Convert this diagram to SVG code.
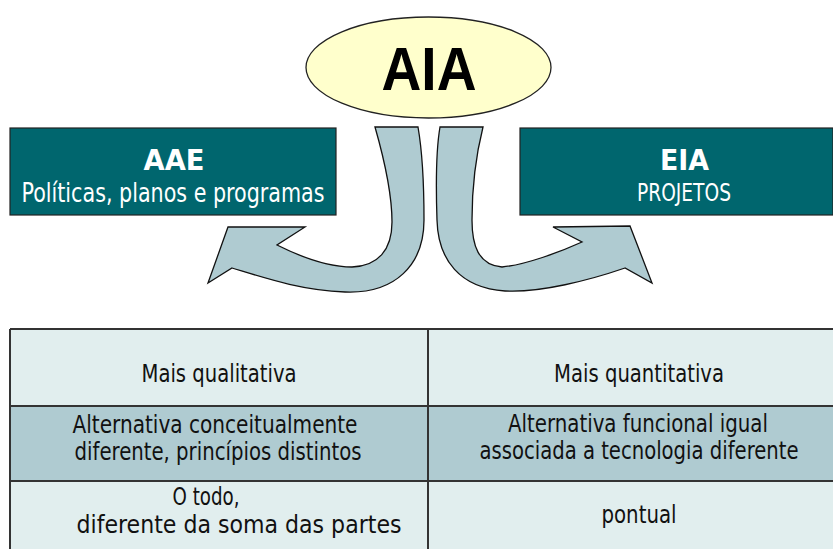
<svg xmlns="http://www.w3.org/2000/svg" width="833" height="549" viewBox="0 0 833 549">
<style>
.box{fill:#00666e;stroke:#222;stroke-width:1.2}
.arrow{fill:#afcbd1;stroke:#111;stroke-width:1.3;stroke-linejoin:miter}
.t{font-family:"DejaVu Sans Condensed","DejaVu Sans",sans-serif;text-anchor:middle}
.w{fill:#fff}
.b{font-weight:bold}
.cell{font-size:24px;fill:#111}
.light{fill:#e1eeee}
.mid{fill:#afcbd1}
.grid{stroke:#333;stroke-width:2;fill:none}
</style>
<rect width="833" height="549" fill="#fff"/>
<g id="connectors">
<path class="arrow" d="M375,127 C383,155 392,195 392,222 C392,250 378,266 352,267 C325,267 295,254 277,245 L305,227 L228,227 L208,283 L232,268 C265,278 300,290 345,292 C395,294 424,265 424,220 C424,180 422,150 418,127 Z"/>
<path class="arrow" d="M440,127 C436,150 436,190 437,220 C438,260 460,288 505,291 C540,293 590,280 625,268 L652,283 L630,226 L553,227 L582,242 C560,252 525,265 502,267 C478,265 472,245 472,220 C472,190 476,155 483,127 Z"/>
</g>
<g id="aia">
<ellipse cx="428.5" cy="67.5" rx="122.5" ry="50.5" fill="#ffffcc" stroke="#222" stroke-width="1.3"/>
<text x="429" y="90" font-family="'Liberation Sans',Arial,sans-serif" font-weight="bold" font-size="61" text-anchor="middle" textLength="95" lengthAdjust="spacingAndGlyphs" fill="#000">AIA</text>
</g>
<g id="aae">
<rect class="box" x="10" y="128" width="326" height="87"/>
<text class="t w b" x="174" y="170" font-size="28" textLength="61" lengthAdjust="spacingAndGlyphs">AAE</text>
<text class="t w" x="173" y="202" font-size="26" textLength="303" lengthAdjust="spacingAndGlyphs">Políticas, planos e programas</text>
</g>
<g id="eia">
<rect class="box" x="520" y="128" width="313" height="87"/>
<text class="t w b" x="684.5" y="170" font-size="28" textLength="49" lengthAdjust="spacingAndGlyphs">EIA</text>
<text class="t w" x="684" y="201" font-size="24" textLength="94" lengthAdjust="spacingAndGlyphs">PROJETOS</text>
</g>
<g id="table">
<rect class="light" x="10" y="329" width="823" height="77"/>
<rect class="mid" x="10" y="406" width="823" height="75"/>
<rect class="light" x="10" y="481" width="823" height="68"/>
<path class="grid" d="M10,329 H833 M10,406 H833 M10,481 H833 M10,329 V549 M428,329 V549"/>
<text class="t cell" x="219" y="382" textLength="155" lengthAdjust="spacingAndGlyphs">Mais qualitativa</text>
<text class="t cell" x="639" y="382" textLength="170" lengthAdjust="spacingAndGlyphs">Mais quantitativa</text>
<text class="t cell" x="215" y="433" textLength="285" lengthAdjust="spacingAndGlyphs">Alternativa conceitualmente</text>
<text class="t cell" x="218" y="460" textLength="287" lengthAdjust="spacingAndGlyphs">diferente, princípios distintos</text>
<text class="t cell" x="638" y="432" textLength="260" lengthAdjust="spacingAndGlyphs">Alternativa funcional igual</text>
<text class="t cell" x="639" y="459" textLength="319" lengthAdjust="spacingAndGlyphs">associada a tecnologia diferente</text>
<text class="t cell" x="206" y="505" textLength="67" lengthAdjust="spacingAndGlyphs">O todo,</text>
<text class="t cell" x="239" y="533" textLength="325" lengthAdjust="spacingAndGlyphs">diferente da soma das partes</text>
<text class="t cell" x="639" y="523" textLength="75" lengthAdjust="spacingAndGlyphs">pontual</text>
</g>
</svg>
